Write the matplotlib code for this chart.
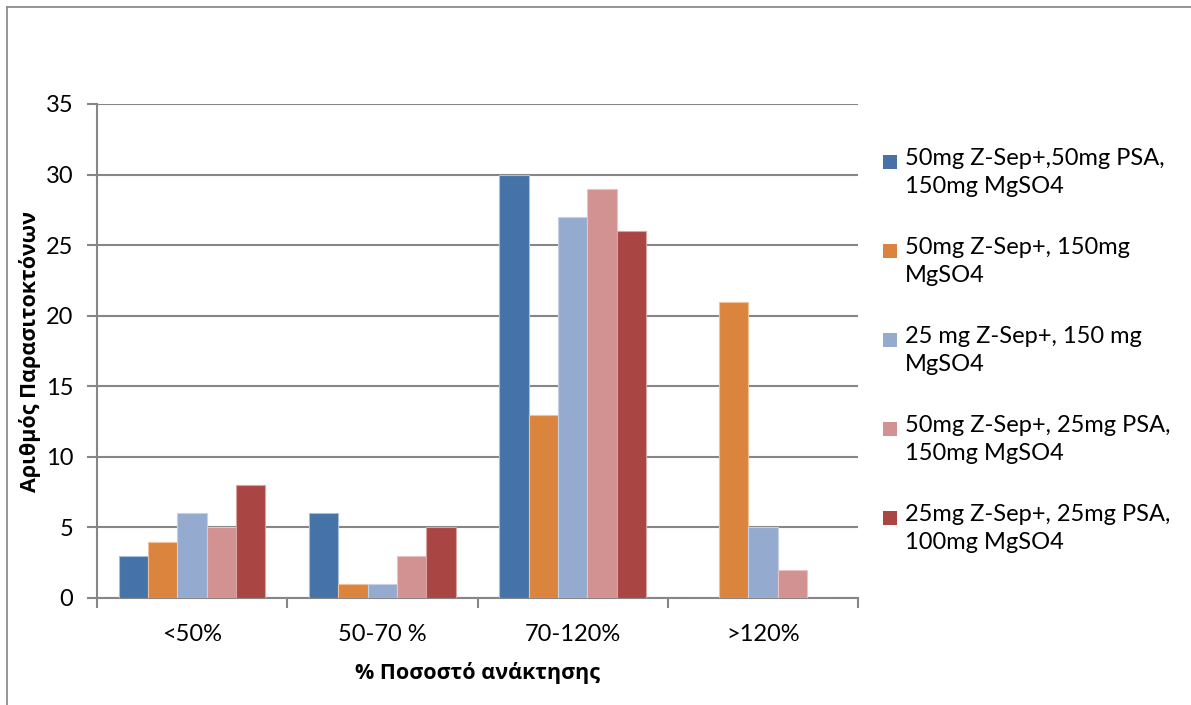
import numpy as np
import matplotlib
matplotlib.use("Agg")
import matplotlib.pyplot as plt
from matplotlib.patches import Rectangle
from matplotlib.lines import Line2D

plt.rcParams['font.family'] = ['Lato', 'DejaVu Sans']

categories = ["<50%", "50-70 %", "70-120%", ">120%"]
series_labels = [
    "50mg Z-Sep+,50mg PSA,\n150mg MgSO4",
    "50mg Z-Sep+, 150mg\nMgSO4",
    "25 mg Z-Sep+, 150 mg\nMgSO4",
    "50mg Z-Sep+, 25mg PSA,\n150mg MgSO4",
    "25mg Z-Sep+, 25mg PSA,\n100mg MgSO4",
]
s1 = [3, 6, 30, 0]
s2 = [4, 1, 13, 21]
s3 = [6, 1, 27, 5]
s4 = [5, 3, 29, 2]
s5 = [8, 5, 26, 0]
series_values = [s1, s2, s3, s4, s5]
colors = ["#4573A7", "#DB843D", "#95AACF", "#D29291", "#A94543"]
edge_colors = ["#A9BEDC", "#F0C09A", "#C4D0E6", "#E8C3C2", "#D9A3A2"]
y_ticks = [0, 5, 10, 15, 20, 25, 30, 35]

W, H = 1191, 705
fig = plt.figure(figsize=(W / 100, H / 100), dpi=100)

# outer frame (left and top edges)
fig.add_artist(Line2D([7 / W, 7 / W], [0, 1 - 7 / H], color="#8C8C8C", lw=1.3))
fig.add_artist(Line2D([7 / W, 1], [1 - 7 / H, 1 - 7 / H], color="#8C8C8C", lw=1.3))

ax_l, ax_r, ax_t, ax_b = 97, 858, 104, 598
aw, ah = ax_r - ax_l, ax_b - ax_t
ax = fig.add_axes([ax_l / W, 1 - ax_b / H, aw / W, ah / H])

n_series = len(series_values)
bar_w = 1 / 6.5
x = np.arange(len(categories))
for j, (vals, c, ec) in enumerate(zip(series_values, colors, edge_colors)):
    ax.bar(x + (j - (n_series - 1) / 2) * bar_w, vals, width=bar_w,
           color=c, edgecolor=ec, linewidth=0.8, zorder=3)

grid_c = "#868686"
fs = 17
ax.set_xlim(-0.5, len(categories) - 0.5)
ax.set_ylim(0, 35)
ax.set_yticks(y_ticks)
ax.yaxis.grid(True, color=grid_c, linewidth=1.5, zorder=0)
ax.set_axisbelow(True)
for s in ["top", "right"]:
    ax.spines[s].set_visible(False)
for s in ["left", "bottom"]:
    ax.spines[s].set_color(grid_c)
    ax.spines[s].set_linewidth(1.5)

ax.set_xticks(np.arange(-0.5, len(categories)), minor=False)
ax.set_xticklabels([])
ax.set_xticks(x, minor=True)
ax.set_xticklabels(categories, minor=True)
ax.tick_params(axis="x", which="major", length=7, width=1.5, color=grid_c, direction="out")
ax.tick_params(axis="x", which="minor", length=0, pad=19, labelsize=fs)
ax.tick_params(axis="y", length=7, width=1.5, color=grid_c, labelsize=fs, pad=10)

bold_font = dict(family=["Open Sans", "DejaVu Sans"], size=15.5, weight="bold")
ax.set_xlabel("% Ποσοστό ανάκτησης", fontdict=bold_font, va="center")
ax.xaxis.set_label_coords(0.5, -(673 - ax_b) / ah)
ax.set_ylabel("Αριθμός Παρασιτοκτόνων", fontdict=bold_font, va="center")
ax.yaxis.set_label_coords(-(ax_l - 30) / aw, 0.5)

# legend drawn as colored squares with two-line labels
leg_x, leg_y0, leg_dy = 883, 162, 89
sq = 14
for j, (lab, c) in enumerate(zip(series_labels, colors)):
    yc = leg_y0 + j * leg_dy
    fig.add_artist(Rectangle((leg_x / W, 1 - (yc + sq / 2) / H), sq / W, sq / H,
                             facecolor=c, edgecolor="none", transform=fig.transFigure))
    fig.text((leg_x + 22) / W, 1 - (yc - 14) / H, lab, fontsize=fs,
             va="top", ha="left", linespacing=1.4)

fig.savefig("out.png", dpi=100)
